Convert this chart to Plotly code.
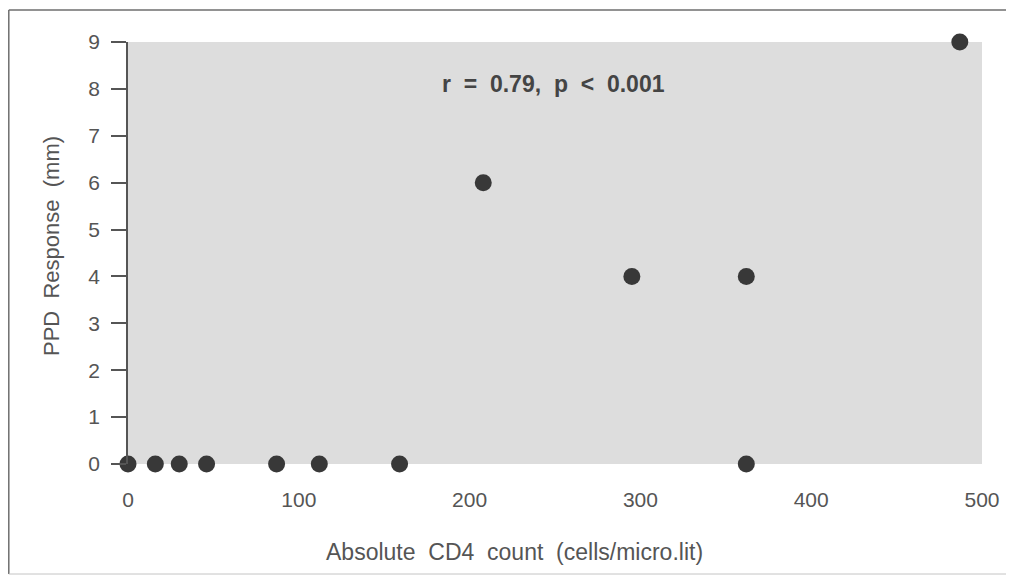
import plotly.graph_objects as go

# Data
cd4_count = [0, 16, 30, 46, 87, 112, 159, 208, 295, 362, 362, 487]
ppd_response = [0, 0, 0, 0, 0, 0, 0, 6, 4, 4, 0, 9]
x_ticks = [0, 100, 200, 300, 400, 500]
y_ticks = [0, 1, 2, 3, 4, 5, 6, 7, 8, 9]
annotation_text = "r  =  0.79,  p  <  0.001"
x_title = "Absolute  CD4  count  (cells/micro.lit)"
y_title = "PPD  Response  (mm)"

# page has an 8px body margin, so the figure is 16px smaller than the window
W, H = 998, 567
L, R, T, B = 120, 24, 34, 111
pw, ph = W - L - R, H - T - B

def px(xp):
    return (xp - L) / pw

def py(yp):
    return (H - B - yp) / ph

font_family = "Liberation Sans, Arial, Helvetica, sans-serif"
txt_col = "#555555"

fig = go.Figure()
fig.add_trace(go.Scatter(
    x=cd4_count, y=ppd_response, mode="markers",
    marker=dict(size=17, color="#383838", line=dict(width=0)),
    cliponaxis=False, showlegend=False, hoverinfo="x+y",
))

fig.add_annotation(
    x=249, y=8.1, xref="x", yref="y", text="<b>" + annotation_text + "</b>",
    showarrow=False, font=dict(family=font_family, size=23, color="#444444"),
)
fig.add_annotation(
    x=px(506), y=py(544), xref="paper", yref="paper", text=x_title,
    showarrow=False, xanchor="center", yanchor="middle",
    font=dict(family=font_family, size=23, color=txt_col),
)
fig.add_annotation(
    x=px(43), y=py(238), xref="paper", yref="paper", text=y_title,
    showarrow=False, xanchor="center", yanchor="middle", textangle=-90,
    font=dict(family=font_family, size=22, color=txt_col),
)

frame_col = "#6e6e6e"
shapes = [
    dict(type="line", xref="paper", yref="paper", x0=px(0.8), x1=px(0.8), y0=py(2), y1=py(566),
         line=dict(color=frame_col, width=1.5)),
    dict(type="line", xref="paper", yref="paper", x0=px(0.8), x1=px(W), y0=py(2), y1=py(2),
         line=dict(color=frame_col, width=1.5)),
    dict(type="line", xref="paper", yref="paper", x0=px(0.8), x1=px(W), y0=py(566), y1=py(566),
         line=dict(color="#c4c4c4", width=1)),
]

fig.update_layout(
    width=W, height=H,
    margin=dict(l=L, r=R, t=T, b=B, autoexpand=False),
    paper_bgcolor="white", plot_bgcolor="#dddddd",
    font=dict(family=font_family, color=txt_col, size=21),
    shapes=shapes,
    xaxis=dict(
        range=[0, 500], tickvals=x_ticks, showgrid=False, zeroline=False,
        showline=False, ticks="", ticklabelstandoff=21,
        tickfont=dict(size=21, color=txt_col),
    ),
    yaxis=dict(
        range=[0, 9], tickvals=y_ticks, showgrid=False, zeroline=False,
        showline=True, linecolor="#555555", linewidth=1.5,
        ticks="outside", ticklen=15, tickwidth=1.5, tickcolor="#555555",
        ticklabelstandoff=7,
        tickfont=dict(size=21, color=txt_col),
    ),
)

fig.write_html("out.html")
